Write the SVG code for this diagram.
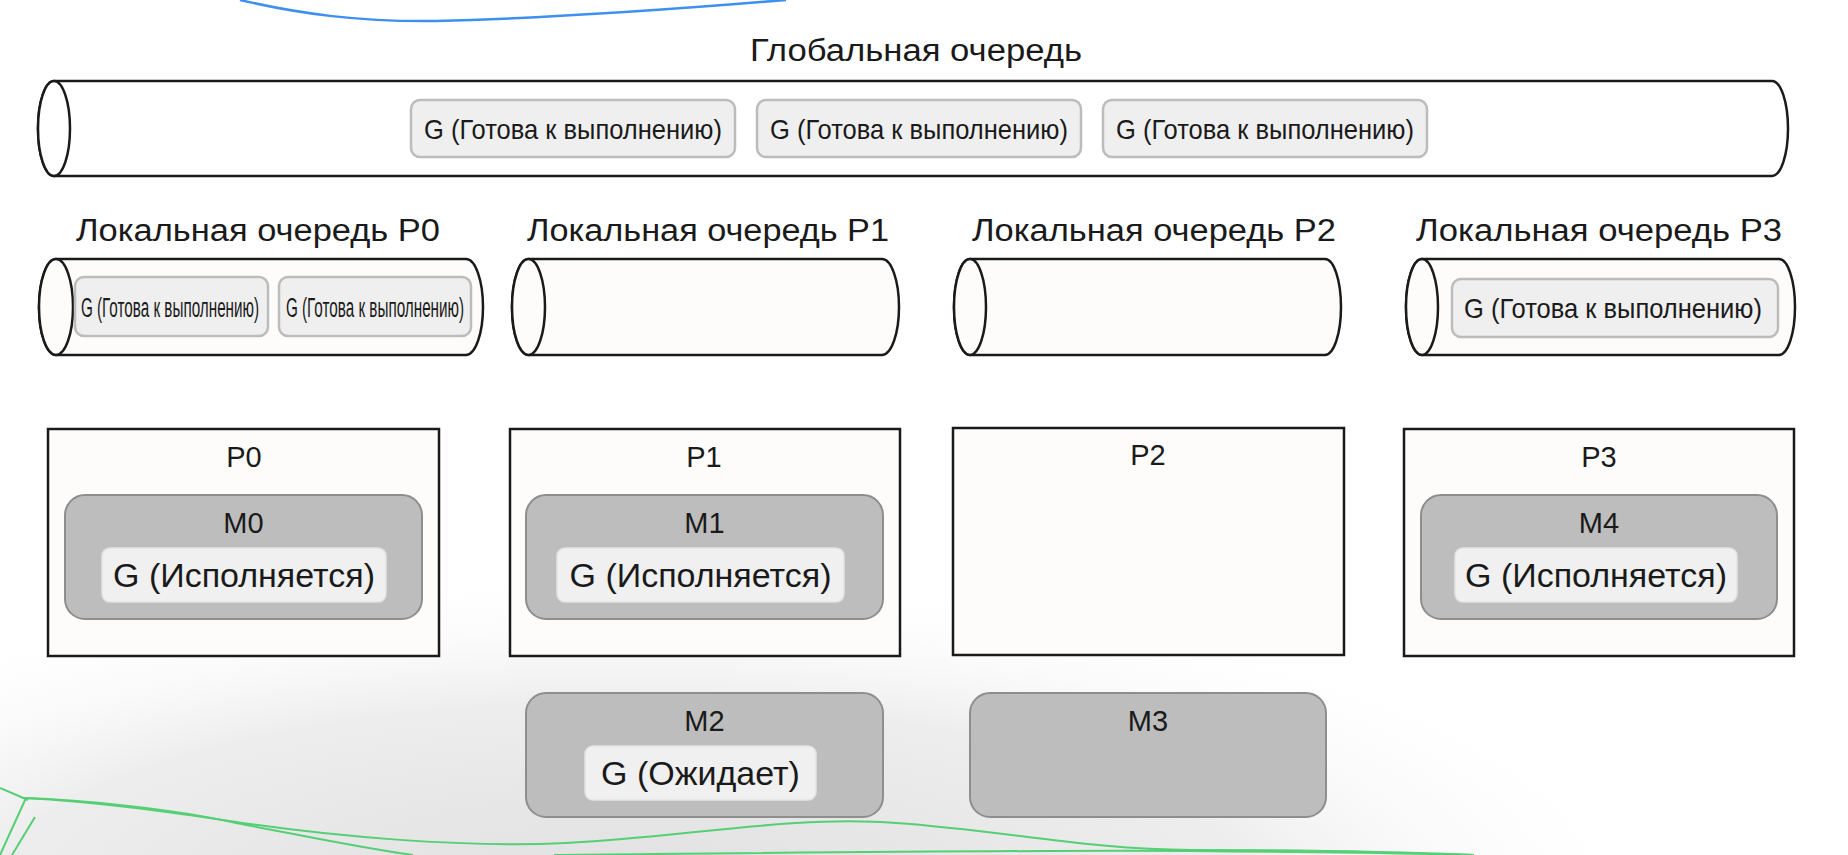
<svg xmlns="http://www.w3.org/2000/svg" width="1848" height="855" viewBox="0 0 1848 855">
<defs>
<radialGradient id="bg" cx="0.5" cy="0.5" r="0.5">
<stop offset="0" stop-color="#e0e0e0"/>
<stop offset="0.6" stop-color="#ededed"/>
<stop offset="1" stop-color="#ffffff" stop-opacity="0"/>
</radialGradient>
<style>
text{font-family:"Liberation Sans",Arial,sans-serif;fill:#1a1a1a;text-anchor:middle}
.cyl{fill:#fdfcfa;stroke:#1a1a1a;stroke-width:2.5}
.cylw{fill:#ffffff;stroke:#1a1a1a;stroke-width:2.5}
.qg{fill:#efefef;stroke:#bcbcbc;stroke-width:2.5}
.proc{fill:#fdfcfa;stroke:#1a1a1a;stroke-width:2.5}
.m{fill:#bdbdbd;stroke:#8e8e8e;stroke-width:2}
.g{fill:#f0f0f0;stroke:#e2e2e2;stroke-width:1.5}
.t34{font-size:34px}
.t31{font-size:31px}
.t28{font-size:28px}
.lbl{font-size:29px}
.deco-g{fill:none;stroke:#55cf75;stroke-width:2}
</style>
</defs>
<rect x="0" y="0" width="1848" height="855" fill="#ffffff"/>
<ellipse cx="620" cy="900" rx="1050" ry="330" fill="url(#bg)"/>
<g id="decor">
<path d="M 240 0 C 300 14 360 22 436 21 C 560 18 690 8 786 0" fill="none" stroke="#3d8ff0" stroke-width="2.5"/>
<path class="deco-g" d="M 24 798 C 100 802 170 812 236 822 C 330 836 460 848 566 843 C 680 838 790 815 896 823 C 1000 830 1090 850 1191 850 C 1300 850 1400 852 1474 855"/>
<path class="deco-g" d="M 24 798 C 80 800 170 808 236 823 C 300 835 360 848 413 855"/>
<path class="deco-g" d="M 554 855 C 760 853 1000 850 1191 851 C 1300 852 1400 853 1474 855"/>
<path class="deco-g" d="M 0 788 L 28 800 M 26 798 L 0 855 M 35 817 L 12 855"/>
</g>
<g id="global-queue">
<text class="t31" x="916" y="61" textLength="332" lengthAdjust="spacingAndGlyphs">Глобальная очередь</text>
<path class="cylw" d="M 54 81 L 1772 81 A 16 47.5 0 0 1 1772 176 L 54 176 A 16 47.5 0 0 1 54 81 Z"/>
<ellipse class="cylw" cx="54" cy="128.5" rx="16" ry="47.5"/>
<g id="gq1"><rect class="qg" x="411" y="100" width="324" height="57" rx="9"/><text class="t28" x="573" y="138.5" textLength="298" lengthAdjust="spacingAndGlyphs">G (Готова к выполнению)</text></g>
<g id="gq2"><rect class="qg" x="757" y="100" width="324" height="57" rx="9"/><text class="t28" x="919" y="138.5" textLength="298" lengthAdjust="spacingAndGlyphs">G (Готова к выполнению)</text></g>
<g id="gq3"><rect class="qg" x="1103" y="100" width="324" height="57" rx="9"/><text class="t28" x="1265" y="138.5" textLength="298" lengthAdjust="spacingAndGlyphs">G (Готова к выполнению)</text></g>
</g>
<g id="lq0">
<text class="t31" x="258" y="241" textLength="364" lengthAdjust="spacingAndGlyphs">Локальная очередь P0</text>
<path class="cyl" d="M 56 259 L 466 259 A 17 48 0 0 1 466 355 L 56 355 A 17 48 0 0 1 56 259 Z"/>
<ellipse class="cyl" cx="56" cy="307" rx="17" ry="48"/>
<rect class="qg" x="75" y="277" width="193" height="59" rx="9"/>
<text class="t28" transform="translate(170 316.5) scale(0.545 1)" x="0" y="0">G (Готова к выполнению)</text>
<rect class="qg" x="279" y="277" width="192" height="59" rx="9"/>
<text class="t28" transform="translate(375 316.5) scale(0.545 1)" x="0" y="0">G (Готова к выполнению)</text>
</g>
<g id="lq1">
<text class="t31" x="708" y="241" textLength="362" lengthAdjust="spacingAndGlyphs">Локальная очередь P1</text>
<path class="cyl" d="M 528.5 259 L 882 259 A 17 48 0 0 1 882 355 L 528.5 355 A 16.5 48 0 0 1 528.5 259 Z"/>
<ellipse class="cyl" cx="528.5" cy="307" rx="16.5" ry="48"/>
</g>
<g id="lq2">
<text class="t31" x="1154" y="241" textLength="364" lengthAdjust="spacingAndGlyphs">Локальная очередь P2</text>
<path class="cyl" d="M 970 259 L 1325 259 A 16 48 0 0 1 1325 355 L 970 355 A 16 48 0 0 1 970 259 Z"/>
<ellipse class="cyl" cx="970" cy="307" rx="16" ry="48"/>
</g>
<g id="lq3">
<text class="t31" x="1599" y="241" textLength="366" lengthAdjust="spacingAndGlyphs">Локальная очередь P3</text>
<path class="cyl" d="M 1422 259 L 1779 259 A 16 48 0 0 1 1779 355 L 1422 355 A 16 48 0 0 1 1422 259 Z"/>
<ellipse class="cyl" cx="1422" cy="307" rx="16" ry="48"/>
<rect class="qg" x="1452" y="279" width="326" height="58" rx="9"/>
<text class="t28" x="1613" y="318" textLength="298" lengthAdjust="spacingAndGlyphs">G (Готова к выполнению)</text>
</g>
<g id="p0">
<rect class="proc" x="48" y="429" width="391" height="227"/>
<text class="lbl" x="244" y="467">P0</text>
<g id="m0">
<rect class="m" x="65" y="495" width="357" height="124" rx="20"/>
<text class="lbl" x="243.5" y="533">M0</text>
<rect class="g" x="102" y="548" width="284" height="54" rx="8"/>
<text class="t34" x="244" y="587">G (Исполняется)</text>
</g>
</g>
<g id="p1">
<rect class="proc" x="510" y="429" width="390" height="227"/>
<text class="lbl" x="704" y="467">P1</text>
<g id="m1">
<rect class="m" x="526" y="495" width="357" height="124" rx="20"/>
<text class="lbl" x="704.5" y="533">M1</text>
<rect class="g" x="557" y="548" width="287" height="54" rx="8"/>
<text class="t34" x="700.5" y="587">G (Исполняется)</text>
</g>
</g>
<g id="p2">
<rect class="proc" x="953" y="428" width="391" height="227"/>
<text class="lbl" x="1148" y="465">P2</text>
</g>
<g id="p3">
<rect class="proc" x="1404" y="429" width="390" height="227"/>
<text class="lbl" x="1599" y="467">P3</text>
<g id="m4">
<rect class="m" x="1421" y="495" width="356" height="124" rx="20"/>
<text class="lbl" x="1599" y="533">M4</text>
<rect class="g" x="1455" y="548" width="282" height="54" rx="8"/>
<text class="t34" x="1596" y="587">G (Исполняется)</text>
</g>
</g>
<g id="m2">
<rect class="m" x="526" y="693" width="357" height="124" rx="20"/>
<text class="lbl" x="704.5" y="731">M2</text>
<rect class="g" x="585" y="746" width="231" height="54" rx="8"/>
<text class="t34" x="700.5" y="785">G (Ожидает)</text>
</g>
<g id="m3">
<rect class="m" x="970" y="693" width="356" height="124" rx="20"/>
<text class="lbl" x="1148" y="731">M3</text>
</g>
<g id="connectors"/>
</svg>
